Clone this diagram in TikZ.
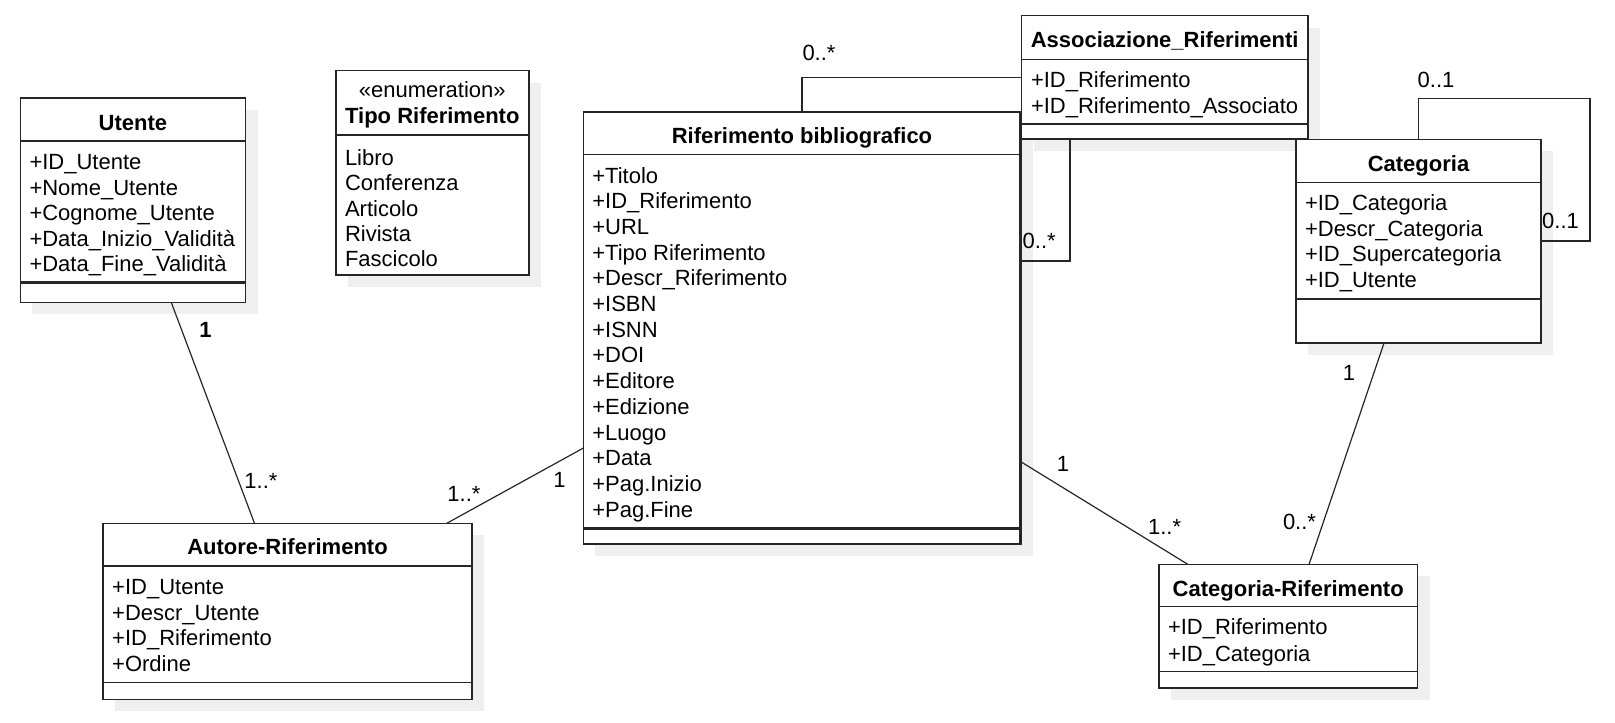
\documentclass[tikz,border=0pt]{standalone}
\usepackage{fontspec}
\setmainfont{Liberation Sans}
\usetikzlibrary{backgrounds,calc}
\definecolor{linec}{HTML}{262626}
\definecolor{shadowc}{HTML}{EFEFEF}
\tikzset{
  box/.style={draw=linec, line width=0.8pt, fill=white, inner sep=0pt, outer sep=0pt, rectangle},
  sepline/.style={draw=linec, line width=0.6pt},
  thicksep/.style={draw=linec, line width=1.3pt},
  conn/.style={draw=linec, line width=0.6pt},
  txt/.style={inner sep=0pt, outer sep=0pt, font=\fontsize{11}{13}\selectfont, text=black},
  attr/.style={txt, anchor=base west},
  ttl/.style={txt, anchor=base, font=\fontsize{11}{13}\selectfont\bfseries},
  mult/.style={txt, anchor=base},
}
\newcommand\umlbox[5]{%
  \begin{pgfonlayer}{background}
    \fill[shadowc] ({#2+12},{#3+12}) rectangle ({#4+12},{#5+12});
  \end{pgfonlayer}
  \node[box, minimum width={(#4-#2)*0.5pt}, minimum height={(#5-#3)*0.5pt}] (#1) at ({(#2+#4)/2},{(#3+#5)/2}) {};
}
\begin{document}
\begin{tikzpicture}[x=0.5pt,y=-0.5pt]
\useasboundingbox (0,0) rectangle (1615,722);
\begin{pgfonlayer}{background}
  \fill[white] (0,0) rectangle (1615,722);
\end{pgfonlayer}

% ---------- Utente ----------
\umlbox{utente}{20.3}{98.3}{245.5}{302.3}
\draw[sepline] (20.3,141) -- (245.5,141);
\draw[thicksep] (20.3,282.7) -- (245.5,282.7);
\node[ttl] (utente-t) at (132.9,130.6) {Utente};
\foreach \t [count=\i from 0] in {+ID\_Utente,+Nome\_Utente,+Cognome\_Utente,+Data\_Inizio\_Validità,+Data\_Fine\_Validità}
  {\node[attr] (u\i) at (29.5,{169.7+25.5*\i}) {\t};}

% ---------- Tipo Riferimento ----------
\umlbox{tipo}{335.7}{70.7}{529}{275}
\draw[sepline] (335.7,135) -- (529,135);
\node[mult] (tipo-s) at (432.3,97.3) {«enumeration»};
\node[ttl] (tipo-t) at (432.3,124) {Tipo Riferimento};
\foreach \t [count=\i from 0] in {Libro,Conferenza,Articolo,Rivista,Fascicolo}
  {\node[attr] (t\i) at (345,{165.3+25.4*\i}) {\t};}

% ---------- Riferimento bibliografico ----------
\umlbox{rif}{583.3}{112}{1020.7}{544}
\draw[sepline] (583.3,154.3) -- (1020.7,154.3);
\draw[thicksep] (583.3,528.3) -- (1020.7,528.3);
\draw[draw=linec, line width=1.3pt] (rif.north east) -- (rif.south east);
\node[ttl] (rif-t) at (802,143) {Riferimento bibliografico};
\foreach \t [count=\i from 0] in {+Titolo,+ID\_Riferimento,+URL,+Tipo Riferimento,+Descr\_Riferimento,+ISBN,+ISNN,+DOI,+Editore,+Edizione,+Luogo,+Data,+Pag.Inizio,+Pag.Fine}
  {\node[attr] (r\i) at (592.3,{183+25.7*\i}) {\t};}

% ---------- Associazione_Riferimenti ----------
\umlbox{assoc}{1021.5}{15.7}{1308}{139}
\draw[sepline] (1021.5,59.3) -- (1308,59.3);
\draw[sepline] (1021.5,124) -- (1308,124);
\node[ttl] (assoc-t) at (1164.7,48) {Associazione\_Riferimenti};
\foreach \t [count=\i from 0] in {+ID\_Riferimento,+ID\_Riferimento\_Associato}
  {\node[attr] (a\i) at (1031,{87.3+25.7*\i}) {\t};}

% ---------- Categoria ----------
\umlbox{cat}{1296}{139.3}{1541}{342.7}
\draw[sepline] (1296,182.3) -- (1541,182.3);
\draw[sepline] (1296,299) -- (1541,299);
\node[ttl] (cat-t) at (1418.5,171.3) {Categoria};
\foreach \t [count=\i from 0] in {+ID\_Categoria,+Descr\_Categoria,+ID\_Supercategoria,+ID\_Utente}
  {\node[attr] (c\i) at (1305,{210.3+25.7*\i}) {\t};}

% ---------- Autore-Riferimento ----------
\umlbox{autore}{103.2}{523.3}{471.8}{699.3}
\draw[sepline] (103.2,566) -- (471.8,566);
\draw[sepline] (103.2,682.7) -- (471.8,682.7);
\node[ttl] (autore-t) at (287.5,554.6) {Autore-Riferimento};
\foreach \t [count=\i from 0] in {+ID\_Utente,+Descr\_Utente,+ID\_Riferimento,+Ordine}
  {\node[attr] (ar\i) at (112.2,{594.7+25.5*\i}) {\t};}

% ---------- Categoria-Riferimento ----------
\umlbox{catrif}{1158.8}{564.3}{1417.6}{687.7}
\draw[sepline] (1158.8,606.7) -- (1417.6,606.7);
\draw[sepline] (1158.8,671.7) -- (1417.6,671.7);
\node[ttl] (catrif-t) at (1288.2,596.3) {Categoria-Riferimento};
\foreach \t [count=\i from 0] in {+ID\_Riferimento,+ID\_Categoria}
  {\node[attr] (cr\i) at (1168,{634.7+26.3*\i}) {\t};}

% ---------- connectors ----------
\draw[conn] (utente) -- (autore);
\draw[conn] (autore) -- (rif);
\draw[conn] (rif) -- (catrif);
\draw[conn] (cat) -- (catrif);
\draw[conn] (rif.north) |- (assoc.west);
\coordinate (k) at (1070,261);
\draw[conn] (assoc.south -| k) -- (k) -- (k -| rif.east);
\coordinate (lp) at (1590,98.3);
\draw[conn] (cat.north) |- (lp) |- (cat.east);

% ---------- multiplicities ----------
\node[mult, font=\fontsize{11}{13}\selectfont\bfseries] (m1) at (205.5,337.7) {1};
\node[mult] (m2) at (261,488) {1..*};
\node[mult] (m3) at (464,501.5) {1..*};
\node[mult] (m4) at (559.5,487.7) {1};
\node[mult] (m5) at (1063,471.7) {1};
\node[mult] (m6) at (1164.6,534) {1..*};
\node[mult] (m7) at (1349,380.7) {1};
\node[mult] (m8) at (1299.5,529) {0..*};
\node[mult] (m9) at (819,61) {0..*};
\node[attr] (m10) at (1022.7,248) {0..*};
\node[mult] (m11) at (1436,87.5) {0..1};
\node[mult] (m12) at (1560.5,228) {0..1};
\end{tikzpicture}
\end{document}
